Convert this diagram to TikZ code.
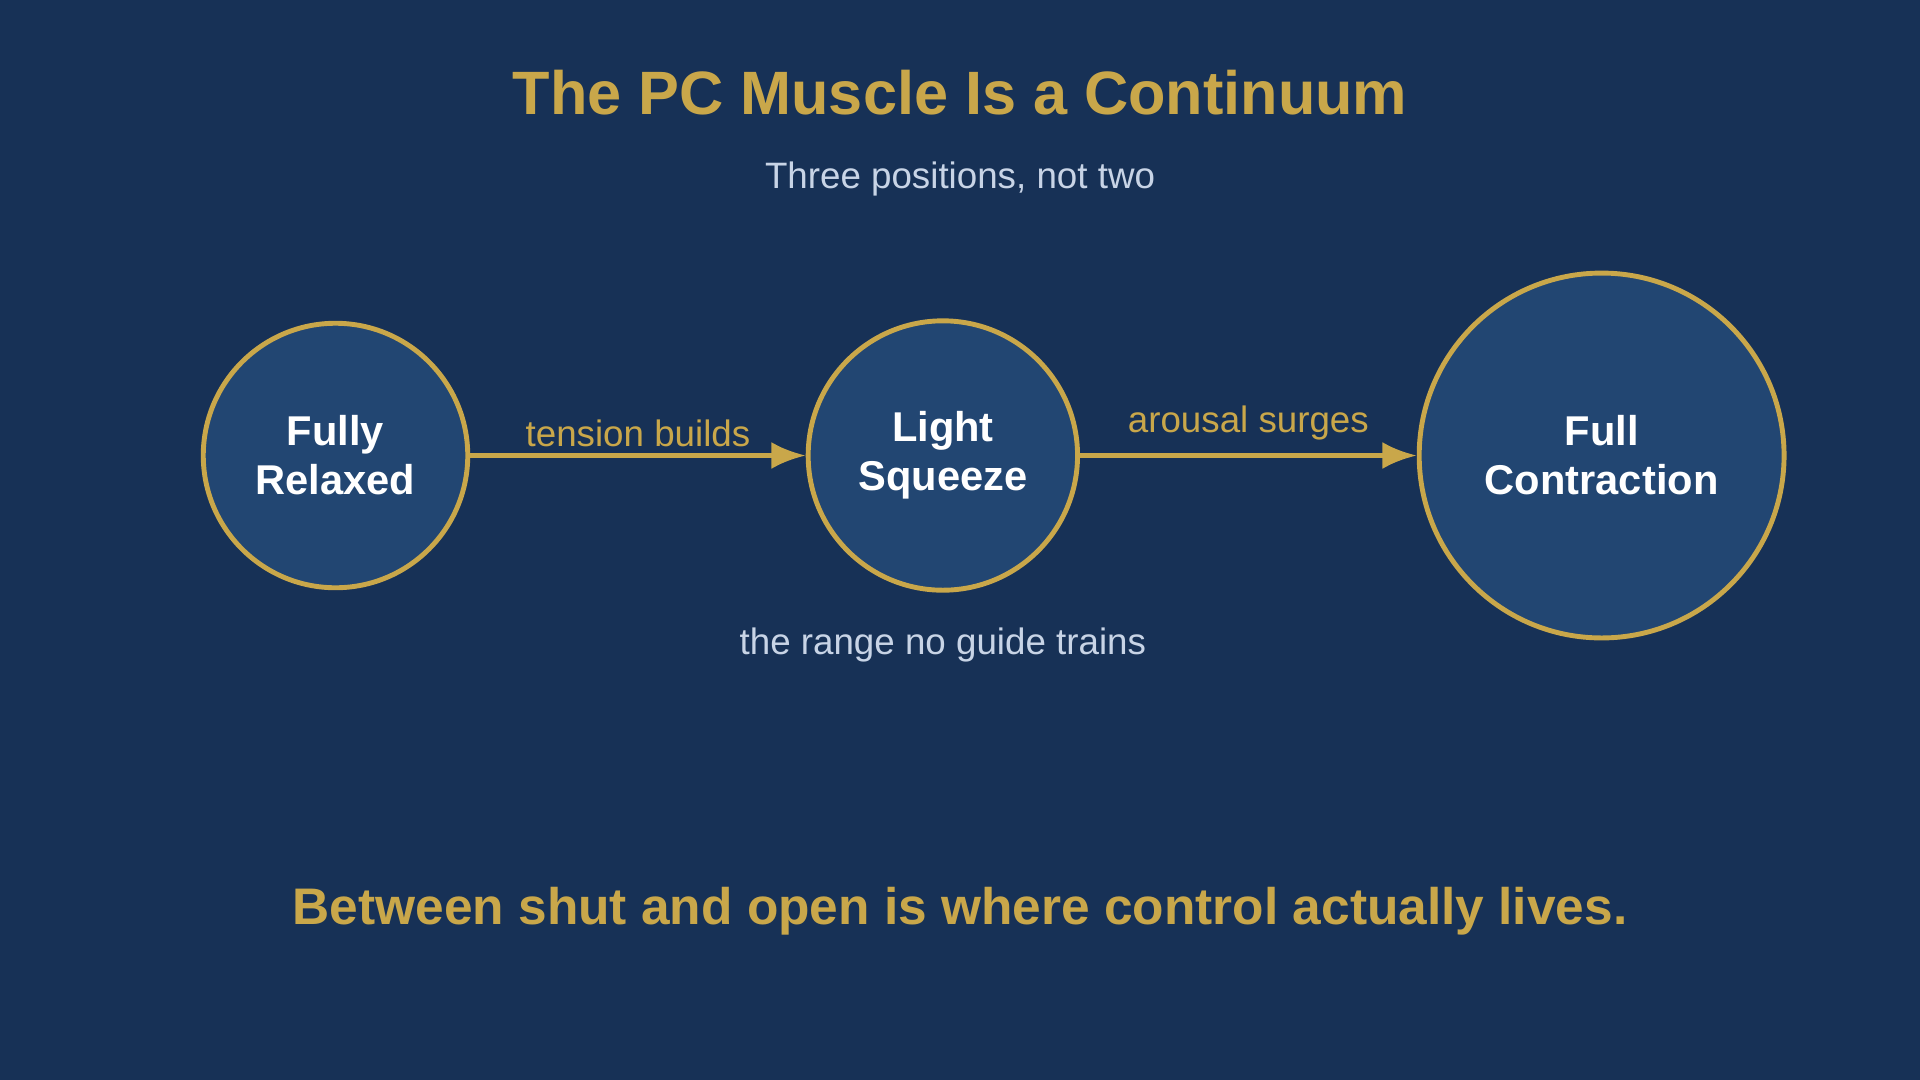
\documentclass[tikz,border=0pt]{standalone}
\usepackage{fontspec}
\setmainfont{Liberation Sans}
\usetikzlibrary{arrows.meta}
\definecolor{bgblue}{HTML}{173156}
\definecolor{nodeblue}{HTML}{224672}
\definecolor{gold}{HTML}{C9A74A}
\definecolor{pale}{HTML}{C8D4E6}
\tikzset{
  state/.style={circle,draw=gold,line width=2pt,fill=nodeblue,text=white,
    font=\fontsize{17}{20}\selectfont\bfseries,align=center,inner sep=0pt},
  flow/.style={gold,line width=2pt,-{Latex[length=14pt,width=11pt]}},
  tag/.style={text=gold,font=\fontsize{15}{18}\selectfont}
}
\begin{document}
\begin{tikzpicture}[x=0.5pt,y=-0.5pt]
  \fill[bgblue,use as bounding box] (0,0) rectangle (1568,882);

  \node[text=gold,font=\fontsize{25}{30}\selectfont\bfseries] (title) at (784,76) {The PC Muscle Is a Continuum};
  \node[text=pale,font=\fontsize{15}{18}\selectfont] (subtitle) at (784,146) {Three positions, not two};

  \node[state,minimum size=216pt*0.5] (relaxed) at (274,372) {Fully\\Relaxed};
  \node[state,minimum size=220pt*0.5] (light) at (770,372) {Light\\Squeeze};
  \node[state,minimum size=298pt*0.5] (full) at (1308,372) {Full\\Contraction};

  \draw[flow] (relaxed) -- (light) node[tag,above,midway,yshift=-1pt] {tension builds};
  \draw[flow] (light) -- (full) node[tag,above,midway,yshift=2pt] {arousal surges};

  \node[text=pale,font=\fontsize{15}{18}\selectfont] (range) at (770,527) {the range no guide trains};

  \node[text=gold,font=\fontsize{21}{25}\selectfont\bfseries] (moral) at (784,744) {Between shut and open is where control actually lives.};
\end{tikzpicture}
\end{document}
